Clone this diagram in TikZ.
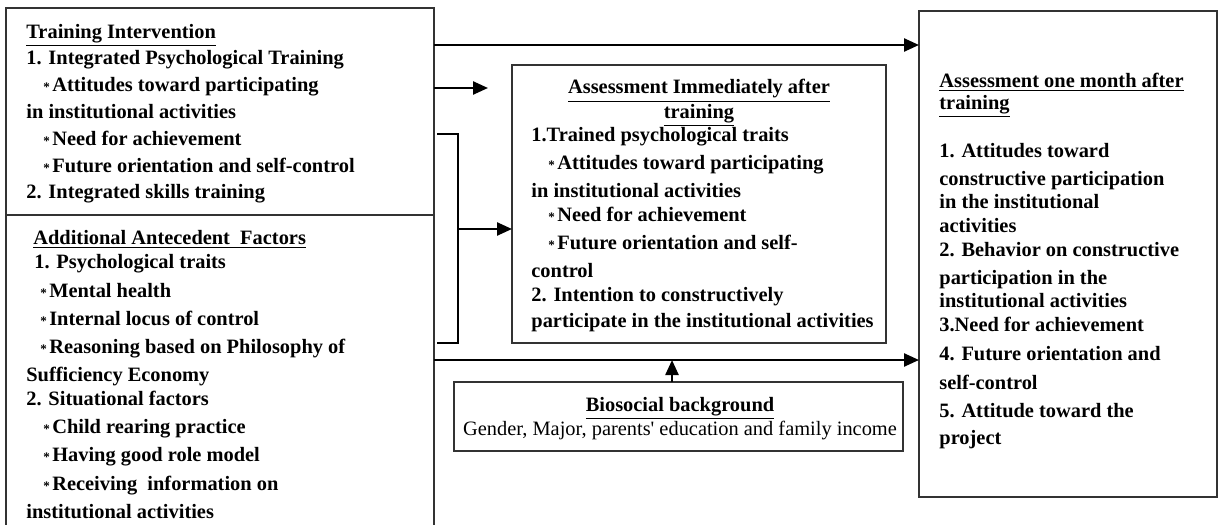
\documentclass[tikz,border=0pt]{standalone}
\usepackage{fontspec}
\setmainfont{Liberation Serif}
\usepackage{tikz}
\usetikzlibrary{arrows.meta}
\newcommand{\hoshi}{{\fontsize{6.5}{6.5}\selectfont *}\kern1.2pt}
\newcommand{\sasae}{\rule{0pt}{8pt}} % 1行目の高さをそろえる

\begin{document}
\begin{tikzpicture}[x=0.5pt, y=-0.5pt,
  blk/.style={draw=black!80, line width=0.6pt, inner sep=0pt, outer sep=0pt},
  arr/.style={-{Triangle[length=7.5pt,width=6.5pt]}, line width=1.2pt},
  txt/.style={align=left, inner sep=0pt, anchor=north west}]
  \useasboundingbox (0,0) rectangle (1218,524); % 画像の大きさ(px)

  % 枠
  \node[blk, minimum width=214pt, minimum height=103.5pt] (tbox) at (220,111.5) {}; % 訓練
  \node[blk, minimum width=214pt, minimum height=165pt] (abox) at (220,380) {}; % 先行要因、下は画像の外へ
  \node[blk, minimum width=187pt, minimum height=139pt] (mbox) at (699,204) {}; % 直後の評価
  \node[blk, minimum width=149pt, minimum height=243pt] (obox) at (1068,254) {}; % 1か月後の評価
  \node[blk, minimum width=224.5pt, minimum height=34.5pt] (bbox) at (678.5,416.5) {}; % 背景

  % 文字、座標は1行目のベースライン-16
  \node[txt, font={\fontsize{10.2}{13.4}\selectfont\bfseries}] (ttxt) at (26,21.7) {%
    \sasae\underline{Training Intervention}\\
    1. Integrated Psychological Training\\
    \hspace*{8.5pt}\hoshi Attitudes toward participating\\
    in institutional activities\\
    \hspace*{8.5pt}\hoshi Need for achievement\\
    \hspace*{8.5pt}\hoshi Future orientation and self-control\\
    2. Integrated skills training};
  \node[txt, font={\fontsize{10.2}{14.15}\selectfont\bfseries}] (atxt) at (26,228) {%
    \sasae\hspace*{3.5pt}\underline{Additional Antecedent\ \ Factors}\\[-2pt]
    \hspace*{4pt}1. Psychological traits\\
    \hspace*{7pt}\hoshi Mental health\\
    \hspace*{7pt}\hoshi Internal locus of control\\
    \hspace*{7pt}\hoshi Reasoning based on Philosophy of\\
    Sufficiency Economy\\[-2.5pt]
    2. Situational factors\\
    \hspace*{8.5pt}\hoshi Child rearing practice\\
    \hspace*{8.5pt}\hoshi Having good role model\\
    \hspace*{8.5pt}\hoshi Receiving\ \ information on\\
    institutional activities};
  \node[align=center, inner sep=0pt, anchor=north, font={\fontsize{10.2}{11.2}\selectfont\bfseries}] (mtitle) at (699,77.3) {%
    \sasae\underline{Assessment Immediately after}\\ \underline{training}};
  \node[txt, font={\fontsize{10.2}{14}\selectfont\bfseries}] (mtxt) at (531,124.7) {%
    \sasae 1.Trained psychological traits\\
    \hspace*{8.5pt}\hoshi Attitudes toward participating\\
    in institutional activities\\[-2pt]
    \hspace*{8.5pt}\hoshi Need for achievement\\
    \hspace*{8.5pt}\hoshi Future orientation and self-\\
    control\\[-2pt]
    2. Intention to constructively\\[-0.7pt]
    participate in the institutional activities};
  \node[txt, font={\fontsize{10.2}{10.85}\selectfont\bfseries}] (otitle) at (939,71.3) {%
    \sasae\underline{Assessment one month after}\\ \underline{training}};
  \node[txt, font={\fontsize{10.2}{11.75}\selectfont\bfseries}] (otxt) at (939,141.3) {%
    \sasae 1. Attitudes toward\\[2.1pt]
    constructive participation\\
    in the institutional\\
    activities\\[0.4pt]
    2. Behavior on constructive\\[1.9pt]
    participation in the\\
    institutional activities\\[0.4pt]
    3.Need for achievement\\[2.75pt]
    4. Future orientation and\\[2.4pt]
    self-control\\[2.45pt]
    5. Attitude toward the\\[1.55pt]
    project};
  \node[align=center, inner sep=0pt, anchor=north, font={\fontsize{10.2}{11.3}\selectfont}] (btxt) at (680,394.7) {%
    \sasae\textbf{\underline{Biosocial background}}\\
    Gender, Major, parents\textquotesingle\ education and family income};

  % 矢印
  \coordinate (y1) at (0,45);
  \coordinate (y3) at (0,360);
  \coordinate (e2) at (488,88); % 矢印の先、枠に届かない
  \coordinate (bt) at (437,134); % かっこ上端
  \coordinate (bb) at (437,343); % かっこ下端
  \coordinate (bm) at (458,229);
  \coordinate (bx) at (672,360);
  \draw[arr] (tbox.east |- y1) -- (obox.west |- y1);
  \draw[arr] (tbox.east |- e2) -- (e2);
  \draw[line width=0.6pt] (bt) -- ++(21,0) |- (bb); % かっこ
  \draw[arr] (bm) -- (mbox.west |- bm);
  \draw[arr] (abox.east |- y3) -- (obox.west |- y3);
  \draw[arr] (bbox.north -| bx) -- (bx);
\end{tikzpicture}
\end{document}
